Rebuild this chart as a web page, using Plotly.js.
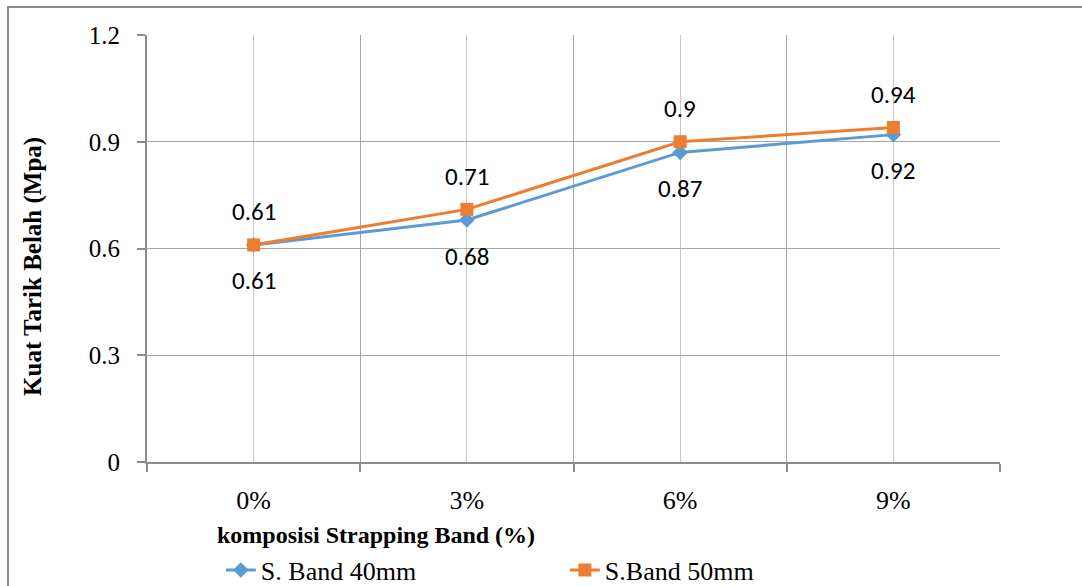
<!DOCTYPE html>
<html>
<head>
<meta charset="utf-8">
<script src="https://cdn.plot.ly/plotly-3.0.1.min.js"></script>
<style>
html,body{margin:0;padding:0;background:#fff;}
#wrap{position:relative;width:1082px;height:586px;overflow:hidden;}
#frame{position:absolute;left:7px;top:6px;width:1100px;height:700px;border-left:2px solid #8c8c8c;border-top:2px solid #8c8c8c;pointer-events:none;}
#chart{position:absolute;left:0;top:0;width:1082px;height:586px;}
</style>
</head>
<body>
<div id="wrap"><div id="chart"></div><div id="frame"></div></div>
<script>
const categories = ["0%", "3%", "6%", "9%"];
const band40 = [0.61, 0.68, 0.87, 0.92];
const band50 = [0.61, 0.71, 0.90, 0.94];
const seriesNames = ["S. Band 40mm", "S.Band 50mm"];
const yTicks = [0, 0.3, 0.6, 0.9, 1.2];

const idx = categories.map((c, i) => i);
const serif = "Liberation Serif, Times New Roman, serif";
const sans = "Carlito, Lato, Open Sans, sans-serif";

const traces = [
  {x: idx, y: band40, name: seriesNames[0], type: "scatter", mode: "lines+markers",
   line: {color: "#5B9BD5", width: 3}, marker: {symbol: "diamond", size: 12, color: "#5B9BD5"}},
  {x: idx, y: band50, name: seriesNames[1], type: "scatter", mode: "lines+markers",
   line: {color: "#ED7D31", width: 3}, marker: {symbol: "square", size: 13, color: "#ED7D31"}}
];

const annotations = [];
idx.forEach(i => {
  annotations.push({x: i, y: band50[i], xref: "x", yref: "y", text: String(band50[i]), showarrow: false,
    yshift: 33, font: {family: sans, size: 25, color: "#000"}});
  annotations.push({x: i, y: band40[i], xref: "x", yref: "y", text: String(band40[i]), showarrow: false,
    yshift: -36, font: {family: sans, size: 25, color: "#000"}});
});
annotations.push({xref: "paper", yref: "paper", x: 0.2685, y: -0.171, xanchor: "center", yanchor: "middle",
  text: "<b>komposisi Strapping Band (%)</b>", showarrow: false, font: {family: serif, size: 24, color: "#000"}});
annotations.push({xref: "paper", yref: "paper", x: -0.1336, y: 0.457, xanchor: "center", yanchor: "middle", textangle: -90,
  text: "<b>Kuat Tarik Belah (Mpa)</b>", showarrow: false, font: {family: serif, size: 25, color: "#000"}});

const layout = {
  width: 1082, height: 586,
  margin: {l: 147, r: 82, t: 35, b: 124, autoexpand: false},
  paper_bgcolor: "rgba(0,0,0,0)", plot_bgcolor: "#fff",
  showlegend: true,
  legend: {orientation: "h", x: 0.0866, xanchor: "left", y: -0.253, yanchor: "middle",
    font: {family: serif, size: 26, color: "#000"}, entrywidth: 299, entrywidthmode: "pixels",
    bgcolor: "rgba(0,0,0,0)"},
  xaxis: {range: [-0.5, 3.5], tickmode: "array", tickvals: idx, ticktext: categories, automargin: false,
    showgrid: true, gridcolor: "#c8c8c8", gridwidth: 1, ticks: "", zeroline: false,
    showline: true, linecolor: "#8c8c8c", linewidth: 2, ticklabelstandoff: 14,
    tickfont: {family: serif, size: 26, color: "#000"},
    minor: {tickmode: "array", tickvals: [-0.5, 0.5, 1.5, 2.5, 3.5], showgrid: true, gridcolor: "#a6a6a6",
      gridwidth: 1.3, ticks: "outside", ticklen: 8, tickcolor: "#8c8c8c", tickwidth: 2},
    fixedrange: true},
  yaxis: {range: [0, 1.2], tickmode: "array", tickvals: yTicks, ticktext: yTicks.map(v => String(v)), automargin: false,
    showgrid: true, gridcolor: "#a6a6a6", gridwidth: 1.3, zeroline: false,
    showline: true, linecolor: "#8c8c8c", linewidth: 2, ticks: "outside", ticklen: 8, tickcolor: "#8c8c8c", tickwidth: 2,
    ticklabelstandoff: 12,
    tickfont: {family: serif, size: 25, color: "#000"}, fixedrange: true},
  annotations: annotations
};

Plotly.newPlot("chart", traces, layout, {displayModeBar: false, staticPlot: true});
</script>
</body>
</html>
